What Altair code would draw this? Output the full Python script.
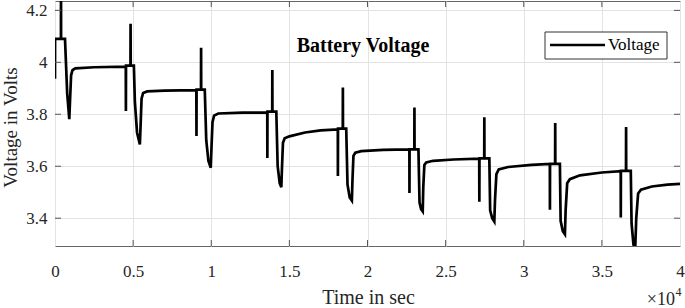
import altair as alt
import pandas as pd

# ---- data (time in s, voltage in V) ----
TIME = [
    # start
    0, 5, 380, 384, 390, 640, 780, 914, 960, 1030, 1120, 1300, 2500, 4530,
    # cycle 1
    4537, 4545, 4830, 4837, 4845, 5048, 5110, 5250, 5431, 5480, 5540, 5640, 5900, 7000, 9045,
    # cycle 2
    9054, 9062, 9343, 9350, 9357, 9585, 9680, 9820, 9968, 10020, 10080, 10180, 10450, 12000, 13585,
    # cycle 3
    13590, 13598, 13902, 13909, 13916, 14164, 14250, 14380, 14484, 14530, 14590, 14700, 15000, 16000, 17000, 18100,
    # cycle 4
    18105, 18113, 18417, 18424, 18431, 18638, 18720, 18860, 18999, 19040, 19100, 19220, 19600, 21000, 22680,
    # cycle 5
    22685, 22693, 22997, 23004, 23011, 23260, 23330, 23430, 23534, 23570, 23640, 23760, 24200, 25500, 27150,
    # cycle 6
    27158, 27166, 27470, 27477, 27484, 27797, 27850, 27980, 28116, 28160, 28250, 28400, 29000, 30500, 31670,
    # cycle 7
    31675, 31683, 32007, 32014, 32021, 32313, 32360, 32500, 32634, 32680, 32780, 32950, 33600, 35000, 36205,
    # cycle 8
    36210, 36218, 36543, 36550, 36557, 36850, 36900, 37020, 37126, 37200, 37320, 37500, 38200, 39200, 40000,
]
VOLT = [
    3.937, 4.090, 4.090, 4.300, 4.090, 4.090, 3.880, 3.781, 3.850, 3.950, 3.970, 3.977, 3.981, 3.983,
    3.813, 3.987, 3.987, 4.148, 3.987, 3.987, 3.850, 3.730, 3.684, 3.760, 3.860, 3.882, 3.888, 3.891, 3.893,
    3.716, 3.895, 3.895, 4.056, 3.895, 3.895, 3.700, 3.620, 3.594, 3.680, 3.770, 3.795, 3.803, 3.806, 3.807,
    3.632, 3.810, 3.810, 3.970, 3.810, 3.810, 3.600, 3.535, 3.519, 3.600, 3.690, 3.708, 3.715, 3.730, 3.738, 3.742,
    3.562, 3.745, 3.745, 3.903, 3.745, 3.745, 3.530, 3.480, 3.468, 3.550, 3.640, 3.652, 3.658, 3.663, 3.665,
    3.497, 3.665, 3.665, 3.826, 3.665, 3.665, 3.460, 3.435, 3.426, 3.520, 3.605, 3.615, 3.621, 3.626, 3.629,
    3.463, 3.630, 3.630, 3.789, 3.630, 3.630, 3.430, 3.400, 3.387, 3.470, 3.570, 3.588, 3.597, 3.605, 3.609,
    3.433, 3.609, 3.609, 3.766, 3.609, 3.609, 3.390, 3.350, 3.338, 3.430, 3.535, 3.550, 3.565, 3.576, 3.581,
    3.403, 3.582, 3.582, 3.751, 3.582, 3.582, 3.380, 3.300, 3.270, 3.400, 3.495, 3.510, 3.522, 3.529, 3.532,
]
X_TICKS = [0, 5000, 10000, 15000, 20000, 25000, 30000, 35000, 40000]
Y_TICKS = [3.4, 3.6, 3.8, 4.0, 4.2]
X_DOMAIN = [0, 40000]
Y_DOMAIN = [3.293, 4.236]

FONT = "Liberation Serif"
TXT = "#262626"
W, H = 625, 245

df = pd.DataFrame({"t": TIME, "v": VOLT})
xt = pd.DataFrame({"t": X_TICKS[1:-1]})
yt = pd.DataFrame({"v": Y_TICKS})

xscale = alt.Scale(domain=X_DOMAIN, nice=False, zero=False)
yscale = alt.Scale(domain=Y_DOMAIN, nice=False, zero=False)

X_AXIS = alt.Axis(
    values=X_TICKS, labelExpr="format(datum.value/10000, '~g')",
    title="Time in sec", titleFont=FONT, titleFontSize=20, titleFontWeight="normal",
    titleColor=TXT, titleBaseline="alphabetic", titleY=57, titleX=313, titleAnchor="middle",
    labelFont=FONT, labelFontSize=17, labelColor=TXT, labelBaseline="alphabetic",
    labelPadding=30, labelFlush=False, labelOverlap=False,
    ticks=False, tickSize=0, domain=False, grid=True, gridColor="#e3e3e3", gridWidth=1)
Y_AXIS = alt.Axis(
    values=Y_TICKS, format="~g",
    title="Voltage in Volts", titleFont=FONT, titleFontSize=19, titleFontWeight="normal",
    titleColor=TXT, titleAngle=270, titleBaseline="alphabetic", titleAlign="center",
    titleX=-39, titleY=126,
    labelFont=FONT, labelFontSize=17, labelColor=TXT, labelPadding=8,
    labelFlush=False, labelOverlap=False,
    ticks=False, tickSize=0, domain=False, grid=True, gridColor="#e3e3e3", gridWidth=1)

X_ENC = alt.X("t:Q", scale=xscale, axis=X_AXIS, title="Time in sec")
Y_ENC = alt.Y("v:Q", scale=yscale, axis=Y_AXIS, title="Voltage in Volts")

line = alt.Chart(df).mark_line(color="black", strokeWidth=2.7, clip=True).encode(
    x=X_ENC, y=Y_ENC)

tick_color = "#555555"
bottom_ticks = alt.Chart(xt).mark_rule(color=tick_color, strokeWidth=1).encode(
    x=X_ENC, y=alt.value(H), y2=alt.value(H - 6))
top_ticks = alt.Chart(xt).mark_rule(color=tick_color, strokeWidth=1).encode(
    x=X_ENC, y=alt.value(0), y2=alt.value(6))
left_ticks = alt.Chart(yt).mark_rule(color=tick_color, strokeWidth=1).encode(
    y=Y_ENC, x=alt.value(0), x2=alt.value(6))
right_ticks = alt.Chart(yt).mark_rule(color=tick_color, strokeWidth=1).encode(
    y=Y_ENC, x=alt.value(W), x2=alt.value(W - 6))

title = alt.Chart(pd.DataFrame({"s": ["Battery Voltage"]})).mark_text(
    font=FONT, fontSize=20, fontWeight="bold", color="black", align="center", baseline="middle"
).encode(text="s:N", x=alt.value(308), y=alt.value(45))

legend_box = alt.Chart(pd.DataFrame({"a": [0]})).mark_rect(
    fill="white", stroke="#333333", strokeWidth=1
).encode(x=alt.value(490), x2=alt.value(612), y=alt.value(31), y2=alt.value(58))
legend_line = alt.Chart(pd.DataFrame({"a": [0]})).mark_rule(
    color="black", strokeWidth=2.7
).encode(x=alt.value(495), x2=alt.value(550), y=alt.value(44))
legend_text = alt.Chart(pd.DataFrame({"s": ["Voltage"]})).mark_text(
    font=FONT, fontSize=17, color="black", align="left", baseline="middle"
).encode(text="s:N", x=alt.value(553), y=alt.value(44))

exp_base = alt.Chart(pd.DataFrame({"s": ["×10"]})).mark_text(
    font=FONT, fontSize=18, color=TXT, align="right", baseline="alphabetic"
).encode(text="s:N", x=alt.value(620), y=alt.value(304))
exp_pow = alt.Chart(pd.DataFrame({"s": ["4"]})).mark_text(
    font=FONT, fontSize=12, color=TXT, align="left", baseline="alphabetic"
).encode(text="s:N", x=alt.value(620.5), y=alt.value(295))

chart = alt.layer(
    line, bottom_ticks, top_ticks, left_ticks, right_ticks,
    title, legend_box, legend_line, legend_text, exp_base, exp_pow,
).properties(
    width=W, height=H, autosize="none",
    padding={"left": 55, "top": 1, "right": 5, "bottom": 62},
    background="white",
).configure_view(stroke="#666666", strokeWidth=1)

chart.save("out.html", embed_options={"renderer": "svg", "actions": False})
